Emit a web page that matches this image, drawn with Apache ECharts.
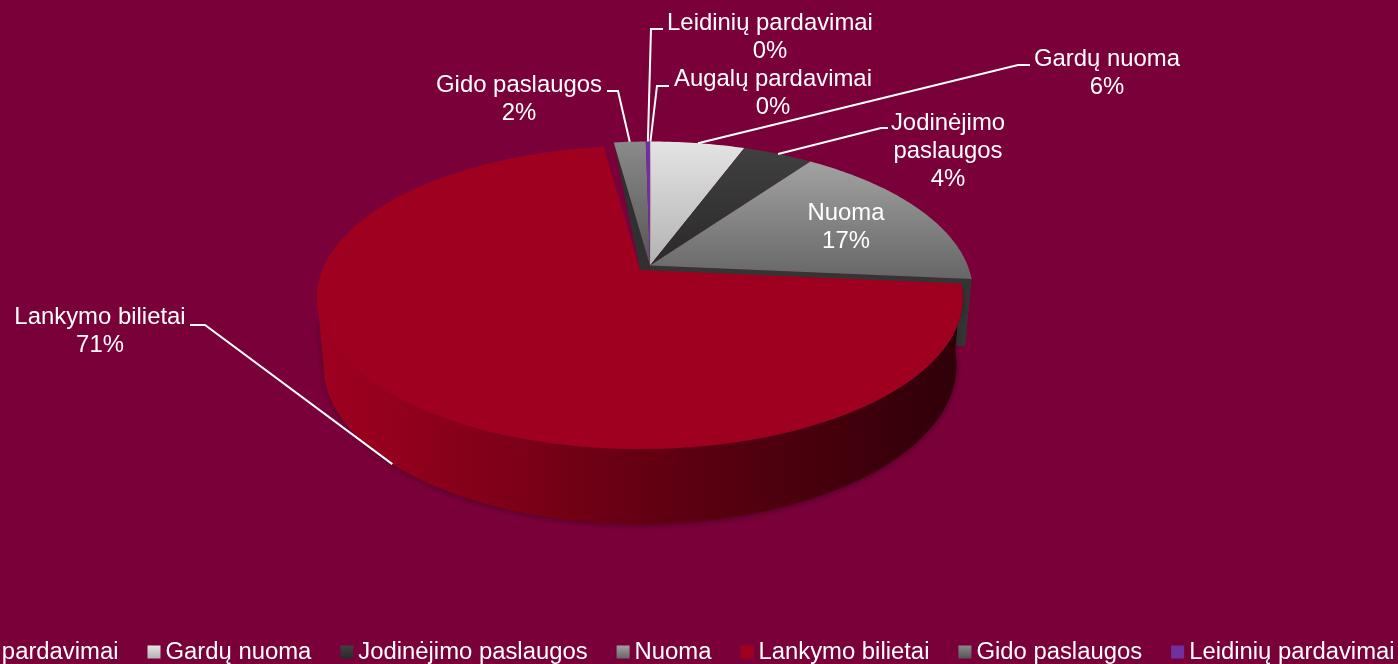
<!DOCTYPE html>
<html>
<head>
<meta charset="utf-8">
<style>html,body{margin:0;padding:0;background:#7a0039}#c{width:1398px;height:664px}</style>
<script src="https://cdn.jsdelivr.net/npm/echarts@6/dist/echarts.min.js"></script>
</head>
<body>
<div id="c"></div>
<script>
// Data, clockwise from twelve o'clock
const sliceNames = ['Augalų pardavimai','Gardų nuoma','Jodinėjimo paslaugos','Nuoma','Lankymo bilietai','Gido paslaugos','Leidinių pardavimai'];
const sliceValues = [0.05, 5.6, 4.2, 16.6, 71.4, 1.9, 0.25];
const labelNames = ['Augalų pardavimai','Gardų nuoma','Jodinėjimo\npaslaugos','Nuoma','Lankymo bilietai','Gido paslaugos','Leidinių pardavimai'];

// Styles
const bg = '#7a0039';
const topColors = [['#e2e2e2','#b0b0b0'],['#e4e4e4','#b2b2b2'],['#404040','#2a2a2a'],['#a2a2a2','#666666'],['#a00020','#a00020'],['#8a8a8a','#555555'],['#7030a0','#7030a0']];
const wallStops = [[0,'#a00020'],[0.3,'#7e0018'],[0.5,'#640012'],[0.8,'#44000c'],[1,'#2e0008']];

// Layout of the tilted disc
const disc = {cx:650, cy:265.5, ax:317.6, ay:146.5, persp:0.1815, depth:66.6, baseX:0.98, baseY:1.047};
const explodedShift = {x:-10, y:4.5}; // Lankymo bilietai is pulled out
const explodedIndex = 4;
const labelLayout = [
  {x:773, y:93, elbow:[[657,86],[669,86]]},
  {x:1107, y:73, elbow:[[1018,65],[1030,65]]},
  {x:948, y:151, elbow:[[881,128],[888,128]]},
  {x:846, y:227, elbow:null},
  {x:100, y:331, elbow:[[205,325],[190,325]]},
  {x:519, y:99, elbow:[[618,91],[607,91]]},
  {x:770, y:37, elbow:[[651,29],[663,29]]}
];
const fontFamily = '"Liberation Sans", Arial, sans-serif';
const font = '23.9px ' + fontFamily;

const total = sliceValues.reduce((a,b)=>a+b,0);
const starts = [];
sliceValues.reduce((acc,v,i)=>{starts[i]=acc;return acc+v;},0);
const toAngle = v => v/total*Math.PI*2;

function topPoint(t,ox,oy){
  const s=Math.sin(t),c=Math.cos(t),d=1+disc.persp*c;
  return [disc.cx+ox+disc.ax*s/d, disc.cy+oy-disc.ay*c/d];
}
function basePoint(t,ox,oy){
  const s=Math.sin(t),c=Math.cos(t),d=1+disc.persp*c;
  return [disc.cx+ox+disc.baseX*disc.ax*s/d, disc.cy+oy+disc.depth-disc.baseY*disc.ay*c/d];
}
function arc(fn,a,b,ox,oy){
  const n=Math.max(2,Math.ceil(Math.abs(b-a)/(Math.PI/180))),pts=[];
  for(let i=0;i<=n;i++)pts.push(fn(a+(b-a)*i/n,ox,oy));
  return pts;
}
const vGrad = c => new echarts.graphic.LinearGradient(0,0,0,1,[{offset:0,color:c[0]},{offset:1,color:c[1]}]);

function makeRender(i){
  return function(params,api){
    const value = api.value(0);
    const a = toAngle(starts[i]), b = a+toAngle(value);
    const isEx = i===explodedIndex;
    const ox = isEx?explodedShift.x:0, oy = isEx?explodedShift.y:0;
    const apex = [disc.cx+ox,disc.cy+oy];
    const kids = [];
    if(isEx){
      // only the part of the rim that faces the viewer
      const rimEnd = Math.min(b, 2*Math.PI-Math.acos(-disc.persp));
      kids.push({type:'polygon',shape:{points:arc(topPoint,a,rimEnd,ox,oy).concat(arc(basePoint,rimEnd,a,ox,oy))},
        style:{fill:new echarts.graphic.LinearGradient(0,0,1,0,wallStops.map(w=>({offset:w[0],color:w[1]}))),shadowBlur:6,shadowOffsetY:1,shadowColor:'rgba(30,0,15,0.5)'}});
    }
    if(i===explodedIndex-1){
      const p=topPoint(b,0,0), q=basePoint(b,0,0), r=[disc.cx,disc.cy+disc.depth];
      kids.push({type:'polygon',shape:{points:[apex,p,q,r]},style:{fill:'#343434'}});
    }
    if(i===explodedIndex+1){
      const p=topPoint(a,0,0), r=[disc.cx+explodedShift.x,disc.cy+explodedShift.y];
      kids.push({type:'polygon',shape:{points:[p,apex,[disc.cx,r[1]],r]},style:{fill:'#303030'}});
    }
    kids.push({type:'polygon',shape:{points:[apex].concat(arc(topPoint,a,b,ox,oy))},
      style:{fill:vGrad(topColors[i])}});
    const lay = labelLayout[i];
    if(lay.elbow){
      const mid=(a+b)/2;
      const from = isEx?basePoint(mid,ox,oy):topPoint(mid,ox,oy);
      kids.push({type:'polyline',shape:{points:[from].concat(lay.elbow)},style:{stroke:'#ffffff',lineWidth:2,fill:'none'}});
    }
    kids.push({type:'text',x:lay.x,y:lay.y,style:{
      text:labelNames[i]+'\n'+Math.round(value/total*100)+'%',
      fill:'#ffffff',font:font,lineHeight:28,align:'center',verticalAlign:'middle'}});
    return {type:'group',children:kids};
  };
}

const chart = echarts.init(document.getElementById('c'),null,{renderer:'canvas'});
chart.setOption({
  animation:false,
  backgroundColor:bg,
  legend:{
    data:sliceNames,
    orient:'horizontal',
    left:-97, top:640, width:1700,
    icon:'rect', itemWidth:13, itemHeight:13, itemGap:29,
    padding:0, selectedMode:false,
    textStyle:{color:'#ffffff',fontSize:23.85,fontFamily:fontFamily}
  },
  series:sliceNames.map((name,i)=>({
    type:'custom',
    name:name,
    coordinateSystem:'none',
    z:i===explodedIndex?3:2,
    silent:true,
    clip:false,
    itemStyle:{color:vGrad(topColors[i])},
    data:[[sliceValues[i]]],
    renderItem:makeRender(i)
  }))
});
</script>
</body>
</html>
